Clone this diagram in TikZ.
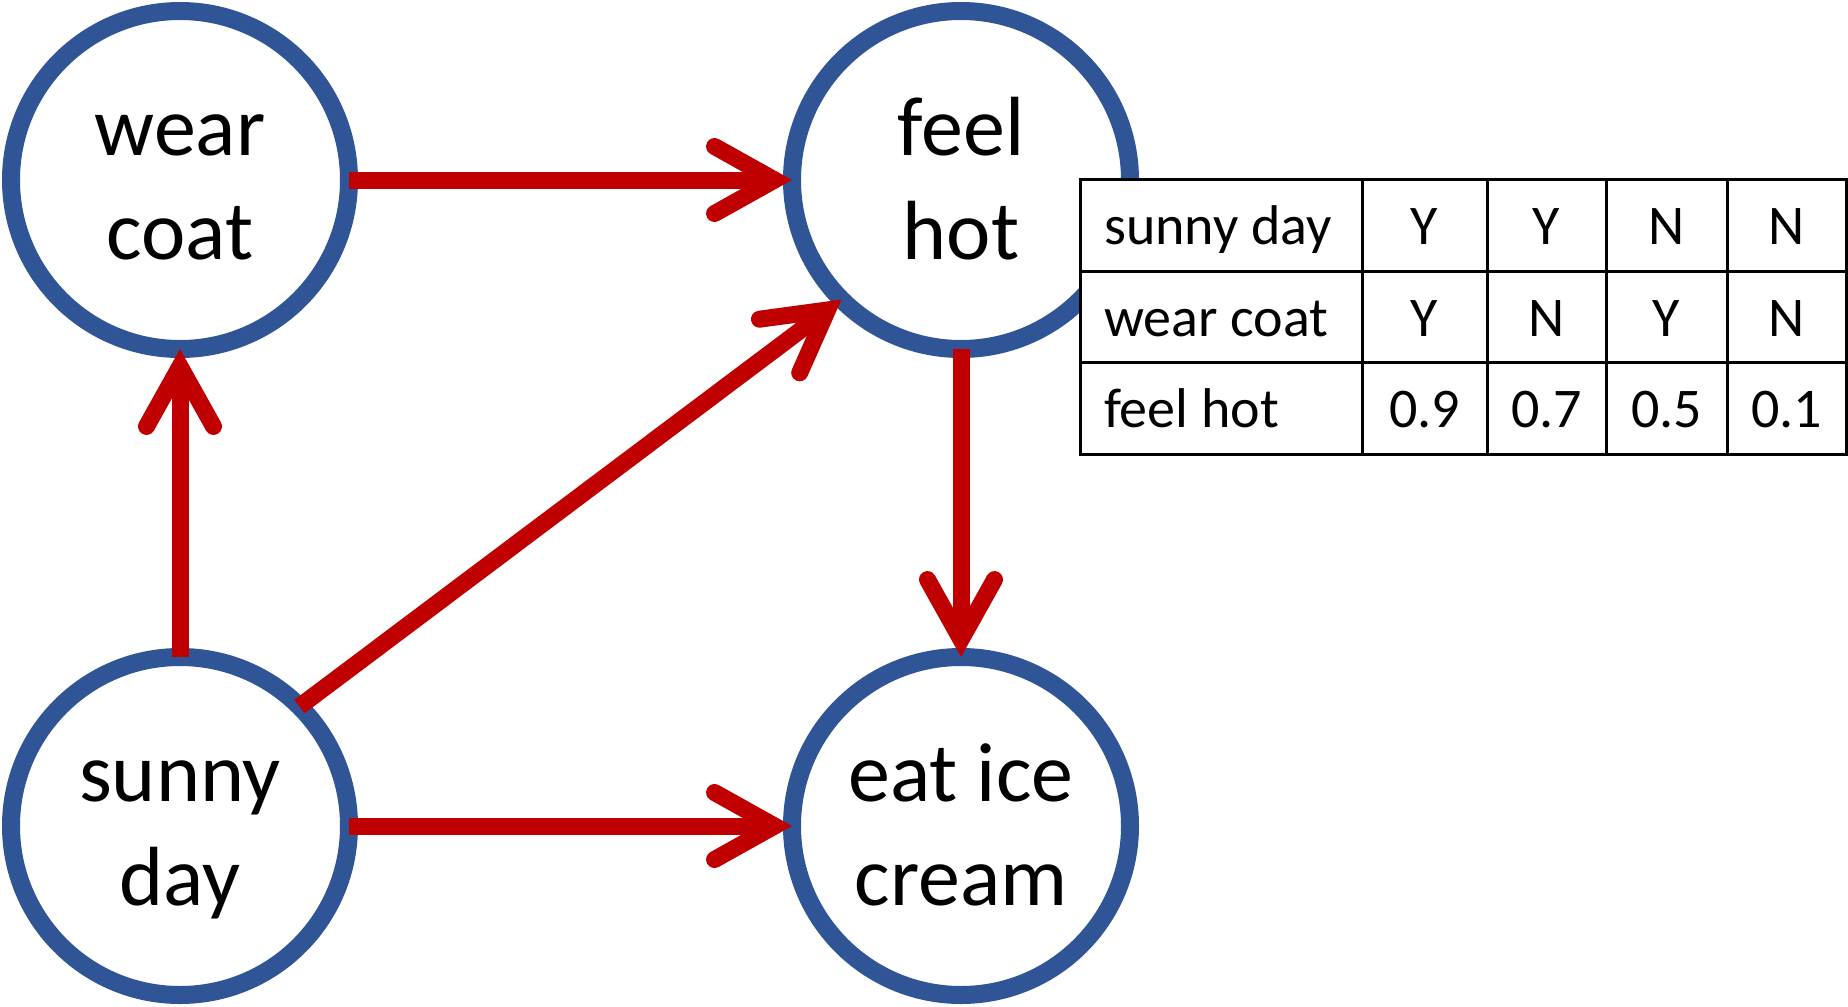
\documentclass[tikz,border=0pt]{standalone}
\usepackage{fontspec}
\setmainfont{Carlito}
\usetikzlibrary{arrows.meta}
\definecolor{nodeblue}{RGB}{47,85,151}
\definecolor{arrowred}{RGB}{192,0,0}
\newcommand{\twolines}[2]{\begin{tabular}{@{}c@{}}\rule{0pt}{87pt}#1\\#2\end{tabular}}
\begin{document}
\begin{tikzpicture}[x=1pt,y=-1pt,
  bnode/.style={circle, draw=nodeblue, line width=18pt, fill=white, minimum size=338pt,
    inner sep=0pt, outer sep=0pt, font=\fontsize{84}{104}\selectfont},
  conn/.style={draw=arrowred, line width=17pt,
    -{Straight Barb[length=60pt,width=67pt,line cap=round,line join=miter]}},
  cellline/.style={line width=3pt, draw=black},
  celltext/.style={font=\fontsize{56}{67}\selectfont, inner sep=0pt, anchor=base},
  rowhead/.style={celltext, anchor=base west}]
\useasboundingbox (0,0) rectangle (1848,1007);
% nodes
\node[bnode] (wear)  at (180,180) {\twolines{wear}{coat}};
\node[bnode] (feel)  at (961,180) {\twolines{feel}{hot}};
\node[bnode] (sunny) at (180,826) {\twolines{sunny}{day}};
\node[bnode] (eat)   at (961,826) {\twolines{eat ice}{cream}};
% connectors
\draw[conn] (wear.east) -- (feel.west);
\draw[conn] (sunny.north) -- (wear.south);
\draw[conn] (sunny.45) -- (feel.225);
\draw[conn] (feel.south) -- (eat.north);
\draw[conn] (sunny.east) -- (eat.west);
% table
\draw[cellline, fill=white] (1080,179) rectangle (1846,454);
\draw[cellline] (1080,271) -- (1846,271);
\draw[cellline] (1080,362) -- (1846,362);
\draw[cellline] (1362,179) -- (1362,454);
\draw[cellline] (1487,179) -- (1487,454);
\draw[cellline] (1606,179) -- (1606,454);
\draw[cellline] (1727,179) -- (1727,454);
\node[rowhead] (sdh) at (1104,244) {sunny day};
\node[rowhead] (wch) at (1104,336) {wear coat};
\node[rowhead] (fhh) at (1104,427) {feel hot};
\node[celltext] (sd1) at (1424.5,244) {Y};
\node[celltext] (sd2) at (1546.5,244) {Y};
\node[celltext] (sd3) at (1666.5,244) {N};
\node[celltext] (sd4) at (1786.5,244) {N};
\node[celltext] (wc1) at (1424.5,336) {Y};
\node[celltext] (wc2) at (1546.5,336) {N};
\node[celltext] (wc3) at (1666.5,336) {Y};
\node[celltext] (wc4) at (1786.5,336) {N};
\node[celltext] (fh1) at (1424.5,427) {0.9};
\node[celltext] (fh2) at (1546.5,427) {0.7};
\node[celltext] (fh3) at (1666.5,427) {0.5};
\node[celltext] (fh4) at (1786.5,427) {0.1};
\end{tikzpicture}
\end{document}
